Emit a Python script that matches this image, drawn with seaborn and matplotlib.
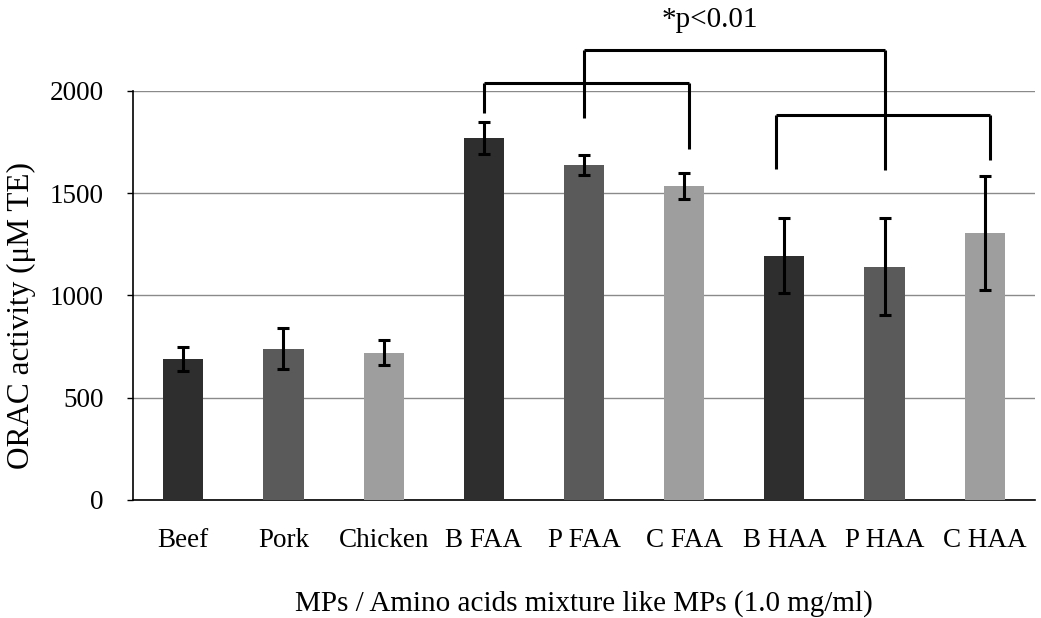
import matplotlib
matplotlib.use("Agg")
import matplotlib.pyplot as plt
import seaborn as sns
import pandas as pd

categories = ["Beef", "Pork", "Chicken", "B FAA", "P FAA", "C FAA", "B HAA", "P HAA", "C HAA"]
values = [690, 740, 720, 1768, 1638, 1535, 1195, 1140, 1305]
errors = [60, 100, 60, 78, 50, 62, 185, 237, 280]
colors = ["#2e2e2e", "#5a5a5a", "#9e9e9e"] * 3
yticks = [0, 500, 1000, 1500, 2000]

# significance brackets: leg x positions, leg bottoms, bar level
faa_legs_x = [3.0, 4.0, 5.05]
faa_legs_bottom = [1890, 1865, 1715]
faa_level = 2040
haa_legs_x = [5.92, 7.0, 8.05]
haa_legs_bottom = [1620, 1615, 1660]
haa_level = 1880
top_level = 2200
sig_text = "*p<0.01"

sns.set_style("white")
plt.rcParams["font.family"] = ["Liberation Serif", "DejaVu Serif"]
plt.rcParams["text.color"] = "black"
plt.rcParams["axes.labelcolor"] = "black"
plt.rcParams["xtick.color"] = "black"
plt.rcParams["ytick.color"] = "black"

fig = plt.figure(figsize=(10.41, 6.18), dpi=100)
ax = fig.add_axes([0.128, 0.191, 0.866, 0.662])

df = pd.DataFrame({"cat": categories, "val": values})
sns.barplot(data=df, x="cat", y="val", hue="cat", palette=colors, legend=False,
            width=0.4, errorbar=None, ax=ax, zorder=3, linewidth=0)
ax.errorbar(range(len(categories)), values, yerr=errors, fmt="none",
            ecolor="black", elinewidth=2.2, capsize=4, capthick=2.2, zorder=4)

ax.set_ylim(0, 2000)
ax.set_xlim(-0.5, 8.5)
ax.set_yticks(yticks)
ax.set_yticklabels([str(t) for t in yticks], fontsize=19.5)
ax.tick_params(axis="x", length=0, labelsize=19.5, pad=20)
ax.tick_params(axis="y", length=4.5, width=1, direction="out", left=True, pad=17)
ax.yaxis.grid(True, color="#8a8a8a", linewidth=1)
ax.set_axisbelow(True)
for s in ["top", "right"]:
    ax.spines[s].set_visible(False)
for s in ["left", "bottom"]:
    ax.spines[s].set_color("black")
    ax.spines[s].set_linewidth(1.2)
ax.set_xlabel("MPs / Amino acids mixture like MPs (1.0 mg/ml)", fontsize=21, labelpad=27)
ax.set_ylabel("ORAC activity (\u03bcM TE)", fontsize=22.5)
ax.yaxis.set_label_coords(-0.108, 0.45)

lw = 2.2
def bracket(xs, bottoms, level):
    ax.plot([xs[0], xs[-1]], [level, level], color="black", lw=lw, clip_on=False, zorder=5,
            solid_capstyle="butt")
    for x, b in zip(xs, bottoms):
        ax.plot([x, x], [b, level], color="black", lw=lw, clip_on=False, zorder=5,
                solid_capstyle="butt")

bracket(faa_legs_x, faa_legs_bottom, faa_level)
bracket(haa_legs_x, haa_legs_bottom, haa_level)
bracket([faa_legs_x[1], haa_legs_x[1]], [faa_level, haa_level], top_level)
ax.text(5.26, 2345, sig_text, ha="center", va="center", fontsize=21, clip_on=False)

fig.savefig("out.png", dpi=100)
